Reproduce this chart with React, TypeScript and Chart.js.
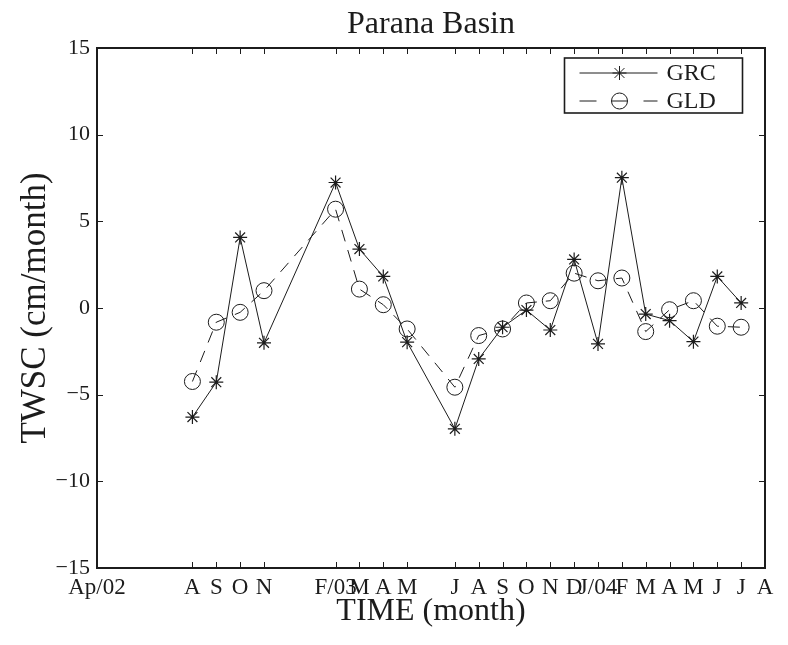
import React, { useEffect, useRef } from 'react';
import { Chart, registerables } from 'chart.js';

Chart.register(...registerables);

const TITLE = 'Parana Basin';
const X_TITLE = 'TIME (month)';
const Y_TITLE = 'TWSC (cm/month)';
const SERIES_LABELS = ['GRC', 'GLD'];

// months counted from Apr 2002 (= 0)
const monthIndex = [4, 5, 6, 7, 10, 11, 12, 13, 15, 16, 17, 18, 19, 20, 21, 22, 23, 24, 25, 26, 27];
const grcValues = [-6.29, -4.28, 4.07, -2.01, 7.24, 3.4, 1.82, -1.97, -6.97, -2.94, -1.11, -0.12, -1.27, 2.8, -2.07, 7.52, -0.35, -0.73, -1.94, 1.82, 0.29];
const gldValues = [-4.24, -0.82, -0.25, 1.0, 5.7, 1.09, 0.19, -1.21, -4.57, -1.59, -1.21, 0.29, 0.42, 2.01, 1.57, 1.73, -1.36, -0.1, 0.42, -1.05, -1.11];

const xTickValues = [0, 4, 5, 6, 7, 10, 11, 12, 13, 15, 16, 17, 18, 19, 20, 21, 22, 23, 24, 25, 26, 27, 28];
const xTickLabels = ['Ap/02', 'A', 'S', 'O', 'N', 'F/03', 'M', 'A', 'M', 'J', 'A', 'S', 'O', 'N', 'D', 'J/04', 'F', 'M', 'A', 'M', 'J', 'J', 'A'];
const yTickValues = [-15, -10, -5, 0, 5, 10, 15];

const FONT = "'Liberation Serif', 'Times New Roman', serif";
const INK = '#1c1c1c';

const framePlugin = {
  id: 'matlabFrame',
  afterDraw(chart: any) {
    const { ctx, chartArea } = chart;
    const { left, right, top, bottom } = chartArea;
    const xs = chart.scales.x;
    const ys = chart.scales.y;
    ctx.save();
    ctx.strokeStyle = INK;
    // tick marks (inward, all four sides)
    ctx.lineWidth = 1;
    const tl = 6;
    ctx.beginPath();
    xTickValues.forEach((v) => {
      const px = Math.round(xs.getPixelForValue(v)) + 0.5;
      ctx.moveTo(px, bottom);
      ctx.lineTo(px, bottom - tl);
      ctx.moveTo(px, top);
      ctx.lineTo(px, top + tl);
    });
    yTickValues.forEach((v) => {
      const py = Math.round(ys.getPixelForValue(v)) + 0.5;
      ctx.moveTo(left, py);
      ctx.lineTo(left + tl, py);
      ctx.moveTo(right, py);
      ctx.lineTo(right - tl, py);
    });
    ctx.stroke();
    // frame
    ctx.lineWidth = 2;
    ctx.strokeRect(left, top, right - left, bottom - top);

    // title, centred over the axes
    ctx.fillStyle = INK;
    ctx.font = `32px ${FONT}`;
    ctx.textAlign = 'center';
    ctx.textBaseline = 'alphabetic';
    ctx.fillText(TITLE, (left + right) / 2, 33);

    // legend
    const bw = 178;
    const bh = 55;
    const bx = right - 22.5 - bw;
    const by = top + 10;
    ctx.fillStyle = '#ffffff';
    ctx.fillRect(bx, by, bw, bh);
    ctx.lineWidth = 1.6;
    ctx.strokeRect(bx, by, bw, bh);
    const r1 = by + 15;
    const r2 = by + 43;
    const mx = bx + 55;
    ctx.lineWidth = 1;
    ctx.beginPath();
    ctx.moveTo(bx + 15, r1);
    ctx.lineTo(bx + 93, r1);
    // star marker
    const sr = 7;
    for (let k = 0; k < 4; k++) {
      const a = (k * Math.PI) / 4;
      ctx.moveTo(mx - Math.cos(a) * sr, r1 - Math.sin(a) * sr);
      ctx.lineTo(mx + Math.cos(a) * sr, r1 + Math.sin(a) * sr);
    }
    // dashed sample
    ctx.moveTo(bx + 15, r2);
    ctx.lineTo(bx + 32, r2);
    ctx.moveTo(bx + 47, r2);
    ctx.lineTo(bx + 63, r2);
    ctx.moveTo(bx + 79, r2);
    ctx.lineTo(bx + 93, r2);
    ctx.stroke();
    ctx.beginPath();
    ctx.arc(mx, r2, 8, 0, Math.PI * 2);
    ctx.stroke();
    ctx.fillStyle = INK;
    ctx.font = `24px ${FONT}`;
    ctx.textAlign = 'left';
    ctx.textBaseline = 'middle';
    ctx.fillText(SERIES_LABELS[0], bx + 102, r1 + 1);
    ctx.fillText(SERIES_LABELS[1], bx + 102, r2 + 1);
    ctx.restore();
  },
};

export default function App() {
  const ref = useRef<HTMLCanvasElement | null>(null);

  useEffect(() => {
    if (!ref.current) return;
    const toPoints = (vals: number[]) => monthIndex.map((m, i) => ({ x: m, y: vals[i] }));
    const chart = new Chart(ref.current, {
      type: 'line',
      data: {
        datasets: [
          {
            label: SERIES_LABELS[0],
            data: toPoints(grcValues),
            borderColor: INK,
            borderWidth: 1,
            tension: 0,
            pointStyle: 'star',
            pointRadius: 7,
            pointBorderWidth: 1.2,
            pointBorderColor: INK,
            pointBackgroundColor: 'rgba(0,0,0,0)',
          },
          {
            label: SERIES_LABELS[1],
            data: toPoints(gldValues),
            borderColor: INK,
            borderWidth: 1,
            borderDash: [12, 9],
            tension: 0,
            pointStyle: 'circle',
            pointRadius: 8,
            pointBorderWidth: 1,
            pointBorderColor: INK,
            pointBackgroundColor: 'rgba(0,0,0,0)',
          },
        ],
      },
      options: {
        responsive: false,
        maintainAspectRatio: false,
        animation: false,
        events: [],
        layout: { padding: { left: 0, right: 23, top: 48, bottom: 0 } },
        plugins: {
          legend: { display: false },
          tooltip: { enabled: false },
          title: { display: false },
        },
        scales: {
          x: {
            type: 'linear',
            min: 0,
            max: 28,
            afterBuildTicks: (s: any) => {
              s.ticks = xTickValues.map((v) => ({ value: v }));
            },
            afterFit: (s: any) => {
              s.height = 77;
            },
            ticks: {
              autoSkip: false,
              maxRotation: 0,
              minRotation: 0,
              padding: 6,
              color: INK,
              font: { family: FONT, size: 23 },
              callback: (v: any) => {
                const i = xTickValues.indexOf(Number(v));
                return i >= 0 ? xTickLabels[i] : '';
              },
            },
            grid: { display: false, drawTicks: false },
            border: { display: false },
            title: {
              display: true,
              text: X_TITLE,
              color: INK,
              font: { family: FONT, size: 32 },
              padding: { top: 0, bottom: 14 },
            },
          },
          y: {
            type: 'linear',
            min: -15,
            max: 15,
            afterBuildTicks: (s: any) => {
              s.ticks = yTickValues.map((v) => ({ value: v }));
            },
            afterFit: (s: any) => {
              s.width = 97;
            },
            ticks: {
              padding: 7,
              color: INK,
              font: { family: FONT, size: 22 },
              callback: (v: any) => String(v).replace('-', '\u2212'),
            },
            grid: { display: false, drawTicks: false },
            border: { display: false },
            title: {
              display: true,
              text: Y_TITLE,
              color: INK,
              font: { family: FONT, size: 35 },
              padding: { top: 15, bottom: 0 },
            },
          },
        },
      } as any,
      plugins: [framePlugin],
    });
    return () => chart.destroy();
  }, []);

  return (
    <div style={{ position: 'fixed', left: 0, top: 0, width: 788, height: 645, background: '#fff' }}>
      <canvas ref={ref} width={788} height={645} style={{ display: 'block', width: 788, height: 645 }} />
    </div>
  );
}
